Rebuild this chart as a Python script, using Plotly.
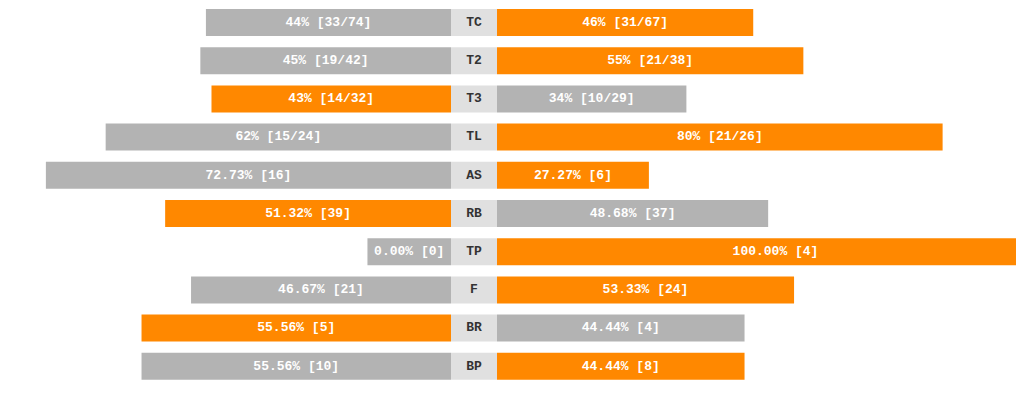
import plotly.graph_objects as go

categories = ["TC", "T2", "T3", "TL", "AS", "RB", "TP", "F", "BR", "BP"]
left_pct = [44, 45, 43, 62, 72.73, 51.32, 0.00, 46.67, 55.56, 55.56]
right_pct = [46, 55, 34, 80, 27.27, 48.68, 100.00, 53.33, 44.44, 44.44]
left_labels = ["44% [33/74]", "45% [19/42]", "43% [14/32]", "62% [15/24]", "72.73% [16]",
               "51.32% [39]", "0.00% [0]", "46.67% [21]", "55.56% [5]", "55.56% [10]"]
right_labels = ["46% [31/67]", "55% [21/38]", "34% [10/29]", "80% [21/26]", "27.27% [6]",
                "48.68% [37]", "100.00% [4]", "53.33% [24]", "44.44% [4]", "44.44% [8]"]
highlight = ["R", "R", "L", "R", "R", "L", "R", "R", "L", "R"]

ORANGE = "#ff8800"
GRAY = "#b3b3b3"
CENTER = "#e0e0e0"
C = 8.26        # width of the centre label box, in percent units
MIN_LEN = 15.0  # minimum drawn bar length so labels fit
FONT = "Liberation Mono, Courier New, monospace"

left_len = [max(v, MIN_LEN) for v in left_pct]
right_len = [max(v, MIN_LEN) for v in right_pct]
left_col = [ORANGE if h == "L" else GRAY for h in highlight]
right_col = [ORANGE if h == "R" else GRAY for h in highlight]

fig = go.Figure()
W = 0.707
fig.add_trace(go.Bar(y=categories, x=left_len, base=[-l for l in left_len], orientation="h",
                     marker=dict(color=left_col, line=dict(width=0)), width=W, hoverinfo="skip"))
fig.add_trace(go.Bar(y=categories, x=[C] * len(categories), base=[0] * len(categories), orientation="h",
                     marker=dict(color=CENTER, line=dict(width=0)), width=W, hoverinfo="skip"))
fig.add_trace(go.Bar(y=categories, x=right_len, base=[C] * len(categories), orientation="h",
                     marker=dict(color=right_col, line=dict(width=0)), width=W, hoverinfo="skip"))

fig.add_trace(go.Scatter(y=categories, x=[-l / 2 for l in left_len], mode="text", text=left_labels,
                         textfont=dict(family=FONT, size=13, color="white", weight="bold"),
                         hoverinfo="skip"))
fig.add_trace(go.Scatter(y=categories, x=[C + r / 2 for r in right_len], mode="text", text=right_labels,
                         textfont=dict(family=FONT, size=13, color="white", weight="bold"),
                         hoverinfo="skip"))
fig.add_trace(go.Scatter(y=categories, x=[C / 2] * len(categories), mode="text", text=categories,
                         textfont=dict(family=FONT, size=13, color="#333333", weight="bold"),
                         hoverinfo="skip"))

scale = 5.57     # px per percent
off = 8          # page body margin
cx = 451         # screen x of left edge of centre box
pitch = 38.2     # px per row
y0 = 22.5        # screen y of first row centre
Wd = 1040
H = 399 - 2 * off
top = -0.5 + ((pitch / 2) - (y0 - off)) / pitch
fig.update_layout(
    width=Wd, height=H, barmode="overlay", showlegend=False,
    margin=dict(l=0, r=0, t=0, b=0),
    plot_bgcolor="white", paper_bgcolor="white",
    xaxis=dict(range=[(off - cx) / scale, (Wd + off - cx) / scale], visible=False, fixedrange=True),
    yaxis=dict(categoryorder="array", categoryarray=categories, visible=False,
               autorange=False, range=[top + H / pitch, top], fixedrange=True),
)
fig.write_html("out.html")
